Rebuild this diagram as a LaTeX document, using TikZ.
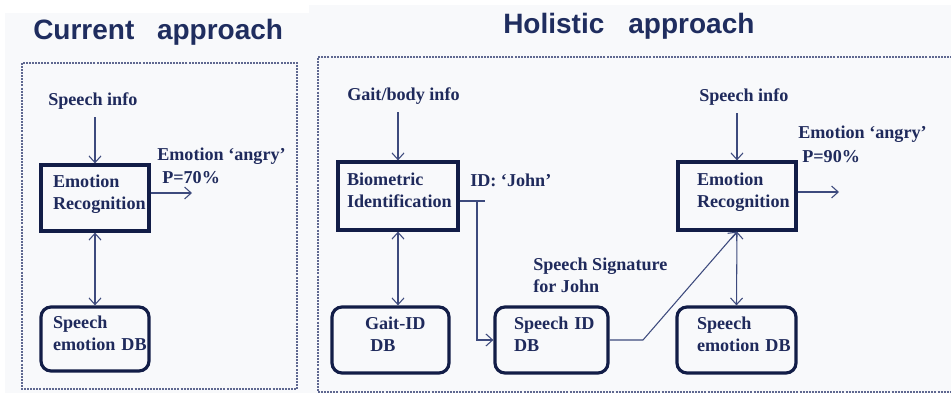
\documentclass[tikz,border=0pt]{standalone}
\usepackage{fontspec}
\setmainfont{Liberation Serif}
\newfontfamily\bodyfont{Liberation Serif}
\newfontfamily\titlefont{Liberation Sans}
\usetikzlibrary{arrows.meta}
\definecolor{titlec}{HTML}{1F2D5F}
\definecolor{textc}{HTML}{1F2A5C}
\definecolor{boxc}{HTML}{121D47}
\definecolor{arrc}{HTML}{3D4A7D}
\definecolor{dashc}{HTML}{5F6890}
\definecolor{panelc}{HTML}{F8F9FB}
\hbadness=10000 \hfuzz=100pt
\newcommand{\dpfix}{\rule[-8pt]{0pt}{1pt}}
\tikzset{
  lbl/.style={anchor=base west, inner sep=0pt, text=textc, font=\bodyfont\bfseries\fontsize{13.6}{16.5}\selectfont},
  ttl/.style={anchor=base west, inner sep=0pt, text=titlec, font=\titlefont\bfseries\fontsize{21}{24}\selectfont},
  boxbase/.style={draw=boxc, line width=2.4pt, text=textc, align=left, inner ysep=0pt,
    font=\bodyfont\bfseries\fontsize{13.6}{16.5}\selectfont},
  proc/.style={boxbase, rectangle},
  dbbox/.style={boxbase, rounded corners=7.5pt},
  arr/.style={draw=arrc, line width=0.8pt, -{Straight Barb[length=5pt,width=9pt]}},
  darr/.style={draw=arrc, line width=0.8pt, {Straight Barb[length=5pt,width=9pt]}-{Straight Barb[length=5pt,width=9pt]}},
  plain/.style={draw=arrc, line width=0.8pt},
  dashbox/.style={draw=dashc, line width=0.8pt, dash pattern=on 1.5pt off 0.8pt}
}
\begin{document}
\begin{tikzpicture}[x=0.75pt, y=-0.75pt]
\useasboundingbox (0,0) rectangle (951,393);
\fill[white] (0,0) rectangle (951,393);
\fill[panelc] (5,13) rectangle (309,393);
\fill[panelc] (309,5) rectangle (951,393);

% titles
\node[ttl] (t1) at (33,39) {Current\hspace{17pt}approach};
\node[ttl] (t2) at (503,33) {Holistic\hspace{18pt}approach};

% dashed frames
\draw[dashbox] (22,63) rectangle (297,389);
\draw[dashbox] (952,57) -- (318,57) -- (318,392) -- (952,392);

% ---------- left: current approach ----------
\node[lbl] (lsi) at (48,105) {Speech info};
\node[proc, minimum width=81pt, minimum height=49.5pt, inner xsep=9pt, text width=63pt] (ler) at (95,198) {\mbox{Emotion}\\\mbox{Recognition}\dpfix};
\node[dbbox, minimum width=81pt, minimum height=48pt, inner xsep=9pt, text width=63pt] (lsdb) at (95,339) {\mbox{Speech}\\\mbox{emotion DB}\dpfix};
\node[lbl] (lemo) at (157,160) {Emotion ‘angry’};
\node[lbl] (lp) at (162,183) {P=70\%};
\coordinate (lout) at (192,193);

\draw[arr] ([yshift=-6pt]lsi.south -| ler.north) -- (ler.north);
\draw[arr] ([yshift=3.75pt]ler.east) -- (lout);
\draw[darr] (ler.south) -- (lsdb.north);

% ---------- right: holistic approach ----------
\node[lbl] (gbi) at (347,100) {Gait/body info};
\node[proc, minimum width=90pt, minimum height=51pt, inner xsep=6.75pt, text width=76.5pt] (bi) at (398,196) {\mbox{Biometric}\\\mbox{Identification}\dpfix};
\node[lbl] (idj) at (470,186) {ID: ‘John’};
\node[dbbox, minimum width=87.75pt, minimum height=49.5pt, inner xsep=24.75pt, text width=38.25pt] (gdb) at (390.5,340) {\mbox{Gait-ID}\\\mbox{\hspace{4pt}DB}\dpfix};
\node[dbbox, minimum width=84.75pt, minimum height=49.5pt, inner xsep=14.25pt, text width=56.25pt] (sidb) at (551.5,340) {\mbox{Speech ID}\\\mbox{DB}\dpfix};
\node[lbl, align=left, anchor=north west] (sig) at (533,258) {Speech Signature\\for John};

\node[lbl] (rsi) at (699,101) {Speech info};
\node[proc, minimum width=88.5pt, minimum height=51pt, inner xsep=14.25pt, text width=60pt] (rer) at (737,196) {\mbox{Emotion}\\\mbox{Recognition}\dpfix};
\node[dbbox, minimum width=89.25pt, minimum height=49.5pt, inner xsep=15pt, text width=59.25pt] (rsdb) at (736.5,340) {\mbox{Speech}\\\mbox{emotion DB}\dpfix};
\node[lbl] (remo) at (798,138) {Emotion ‘angry’};
\node[lbl] (rp) at (802,162) {P=90\%};
\coordinate (rout) at (839,192);

\coordinate (idend) at (485,201);
\coordinate (idcorner) at (477,201);
\coordinate (bend) at (643,340);

\draw[arr] ([yshift=-6pt]gbi.south -| bi.north) -- (bi.north);
\draw[darr] (bi.south) -- (bi.south |- gdb.north);
\draw[plain] ([yshift=-3.75pt]bi.east) -- (idend);
\draw[arr] (idcorner) |- (sidb.west);
\draw[arr] (sidb.east) -- (bend) -- (rer.south);
\draw[arr] ([yshift=-6pt]rsi.south -| rer.north) -- (rer.north);
\draw[arr] ([yshift=3pt]rer.east) -- (rout);
\draw[darr] (rer.south) -- (rsdb.north);
\end{tikzpicture}
\end{document}
